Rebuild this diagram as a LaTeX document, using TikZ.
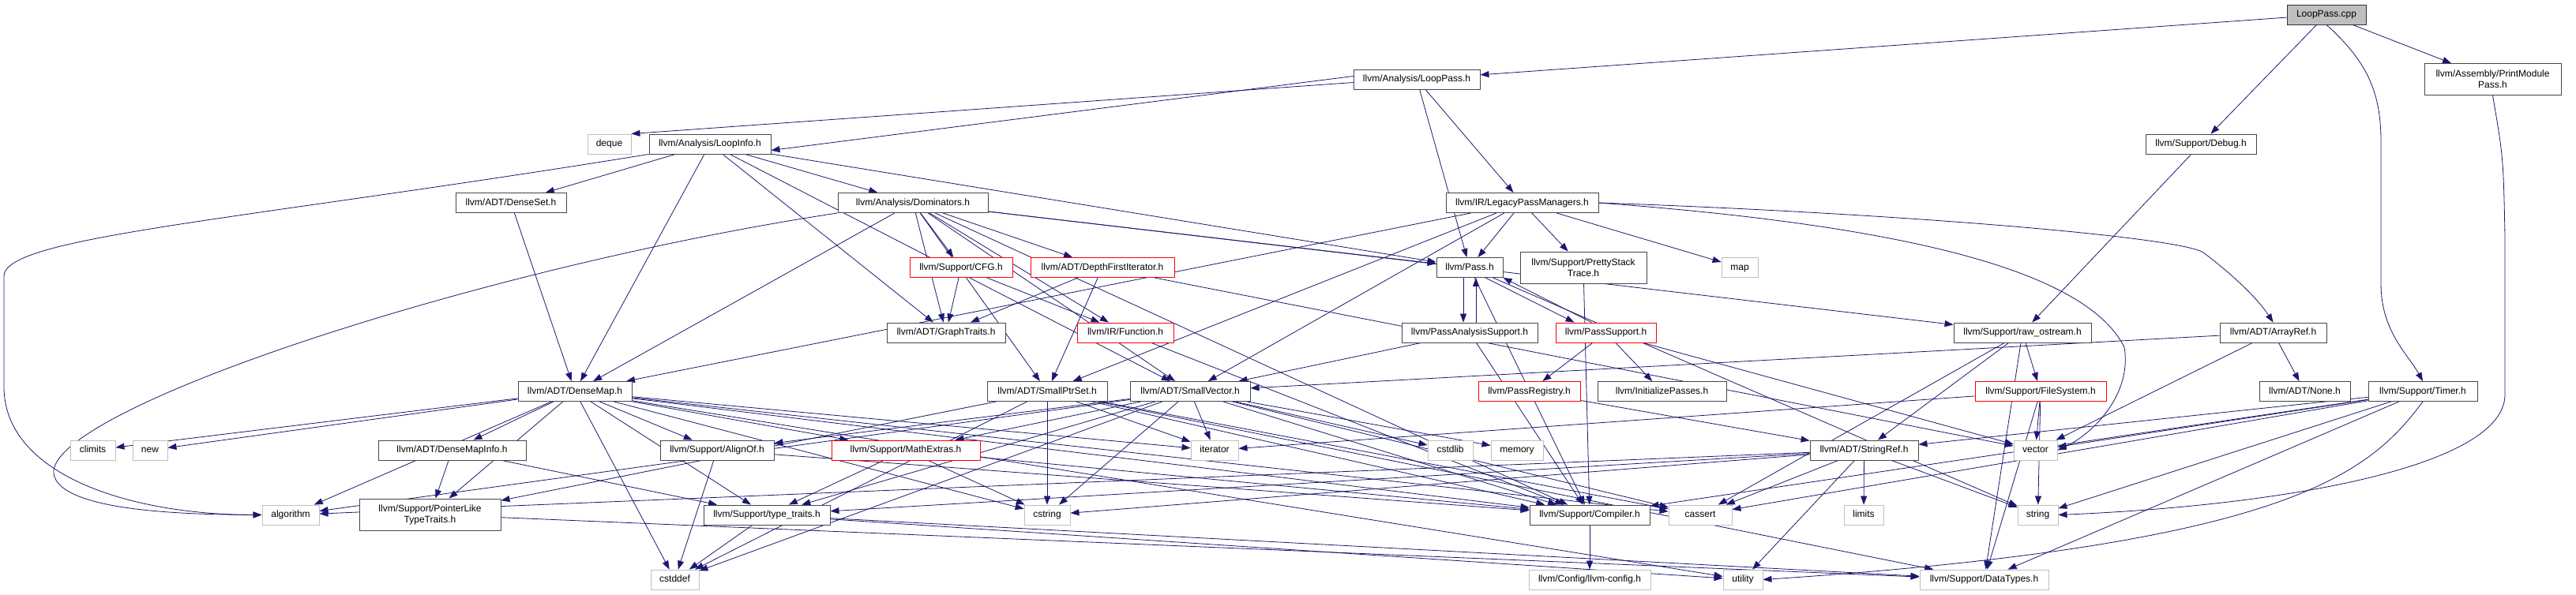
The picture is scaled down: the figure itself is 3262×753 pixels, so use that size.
\documentclass[tikz,border=0pt]{standalone}
\usepackage{fontspec}
\setmainfont{Liberation Sans}
\usetikzlibrary{arrows.meta}
\definecolor{edgec}{HTML}{191970}
\definecolor{graybd}{HTML}{BFBFBF}
\definecolor{rootfill}{HTML}{BFBFBF}
\pgfdeclarelayer{bg}
\pgfsetlayers{bg,main}
\begin{document}
\begin{tikzpicture}[x=1pt,y=-1pt,
  nd/.style={draw=black!72,fill=white,line width=0.9pt,minimum height=25pt,inner sep=0pt,
    font=\fontsize{12}{14}\selectfont,text height=9pt,text depth=2.5pt},
  ndtwo/.style={draw=black!72,fill=white,line width=0.9pt,minimum height=40pt,inner sep=0pt,
    font=\fontsize{12}{14}\selectfont,align=center},
  sys/.style={nd,draw=graybd},
  redbox/.style={nd,draw=red},
  conn/.style={draw=edgec,line width=0.8pt,-{Triangle[length=11pt,width=8pt]}}]
\useasboundingbox (0,0) rectangle (3262,753);
% row 0
\node[nd,fill=rootfill,draw=black!80,minimum width=100pt] (root) at (2946,18.5) {LoopPass.cpp};
% row 1
\node[nd,minimum width=160pt] (looppass) at (1794,100.5) {llvm/Analysis/LoopPass.h};
\node[ndtwo,minimum width=173pt] (pmp) at (3156.5,100.5) {llvm/Assembly/PrintModule\\Pass.h};
% row 2
\node[sys,minimum width=55pt] (deque) at (771.5,182.5) {deque};
\node[nd,minimum width=154pt] (loopinfo) at (899,182.5) {llvm/Analysis/LoopInfo.h};
\node[nd,minimum width=140pt] (debug) at (2787,182.5) {llvm/Support/Debug.h};
% row 3
\node[nd,minimum width=140pt] (denseset) at (647,257) {llvm/ADT/DenseSet.h};
\node[nd,minimum width=190pt] (dominators) at (1156,257) {llvm/Analysis/Dominators.h};
\node[nd,minimum width=193pt] (lpm) at (1927.5,257) {llvm/IR/LegacyPassManagers.h};
% row 4
\node[redbox,minimum width=130pt] (cfg) at (1217,339) {llvm/Support/CFG.h};
\node[redbox,minimum width=182pt] (dfi) at (1396,339) {llvm/ADT/DepthFirstIterator.h};
\node[nd,minimum width=84pt] (pass) at (1861,339) {llvm/Pass.h};
\node[ndtwo,minimum width=160pt] (pst) at (2005,339) {llvm/Support/PrettyStack\\Trace.h};
\node[sys,minimum width=46pt] (map) at (2203,339) {map};
% row 5
\node[nd,minimum width=150pt] (graphtraits) at (1198,421.5) {llvm/ADT/GraphTraits.h};
\node[redbox,minimum width=122pt] (function) at (1425,421.5) {llvm/IR/Function.h};
\node[nd,minimum width=172pt] (pas) at (1861,421.5) {llvm/PassAnalysisSupport.h};
\node[redbox,minimum width=127pt] (passsupport) at (2033.5,421.5) {llvm/PassSupport.h};
\node[nd,minimum width=174pt] (rawostream) at (2561,421.5) {llvm/Support/raw\_ostream.h};
\node[nd,minimum width=135pt] (arrayref) at (2878.5,421.5) {llvm/ADT/ArrayRef.h};
% row 6
\node[nd,minimum width=144pt] (densemap) at (728,496) {llvm/ADT/DenseMap.h};
\node[nd,minimum width=152pt] (smallptrset) at (1326,496) {llvm/ADT/SmallPtrSet.h};
\node[nd,minimum width=152pt] (smallvector) at (1507,496) {llvm/ADT/SmallVector.h};
\node[redbox,minimum width=129pt] (passregistry) at (1936.5,496) {llvm/PassRegistry.h};
\node[nd,minimum width=163pt] (initpasses) at (2104.5,496) {llvm/InitializePasses.h};
\node[redbox,minimum width=166pt] (filesystem) at (2584,496) {llvm/Support/FileSystem.h};
\node[nd,minimum width=115pt] (none) at (2918.5,496) {llvm/ADT/None.h};
\node[nd,minimum width=138pt] (timer) at (3068,496) {llvm/Support/Timer.h};
% row 7
\node[sys,minimum width=57pt] (climits) at (117.5,570.5) {climits};
\node[sys,minimum width=44pt] (new) at (190,570.5) {new};
\node[nd,minimum width=187pt] (densemapinfo) at (572.5,570.5) {llvm/ADT/DenseMapInfo.h};
\node[nd,minimum width=144pt] (alignof) at (908,570.5) {llvm/Support/AlignOf.h};
\node[redbox,minimum width=188pt] (mathextras) at (1147,570.5) {llvm/Support/MathExtras.h};
\node[sys,minimum width=60pt] (iterator) at (1538,570.5) {iterator};
\node[sys,minimum width=57pt] (cstdlib) at (1836.5,570.5) {cstdlib};
\node[sys,minimum width=66pt] (memory) at (1921,570.5) {memory};
\node[nd,minimum width=137pt] (stringref) at (2360.5,570.5) {llvm/ADT/StringRef.h};
\node[sys,minimum width=55pt] (vector) at (2577.5,570.5) {vector};
% row 8
\node[sys,minimum width=72pt] (algorithm) at (368,652.5) {algorithm};
\node[ndtwo,minimum width=179pt] (pltt) at (544.5,652) {llvm/Support/PointerLike\\TypeTraits.h};
\node[nd,minimum width=160pt] (typetraits) at (971,652.5) {llvm/Support/type\_traits.h};
\node[sys,minimum width=58pt] (cstring) at (1326,652.5) {cstring};
\node[nd,minimum width=152pt] (compiler) at (2013,652.5) {llvm/Support/Compiler.h};
\node[sys,minimum width=80pt] (cassert) at (2153,652.5) {cassert};
\node[sys,minimum width=50pt] (limits) at (2360,652.5) {limits};
\node[sys,minimum width=51pt] (string) at (2580.5,652.5) {string};
% row 9
\node[sys,minimum width=61pt] (cstddef) at (854.5,734.5) {cstddef};
\node[sys,minimum width=154pt] (llvmconfig) at (2013,734.5) {llvm/Config/llvm-config.h};
\node[sys,minimum width=50pt] (utility) at (2207,734.5) {utility};
\node[sys,minimum width=163pt] (datatypes) at (2512.5,734.5) {llvm/Support/DataTypes.h};

\begin{pgfonlayer}{bg}
\foreach \a/\b in {root/looppass, root/pmp, root/debug,
  looppass/lpm, looppass/pass,
  loopinfo/densemap, loopinfo/denseset, loopinfo/graphtraits, loopinfo/smallvector, loopinfo/dominators, loopinfo/pass,
  denseset/densemap,
  dominators/densemap, dominators/dfi, dominators/graphtraits, dominators/smallptrset, dominators/smallvector,
  dominators/function, dominators/pass, dominators/cfg, dominators/compiler, dominators/rawostream,
  lpm/densemap, lpm/smallptrset, lpm/smallvector, lpm/pass, lpm/pst, lpm/map,
  debug/rawostream,
  cfg/graphtraits, cfg/function,
  dfi/graphtraits, dfi/smallptrset, dfi/vector,
  pass/compiler, pass/string,
  pst/compiler, function/compiler,
  pas/smallvector, pas/compiler,
  passsupport/passregistry, passsupport/initpasses, passsupport/vector,
  rawostream/stringref, rawostream/filesystem, rawostream/cassert, rawostream/datatypes,
  arrayref/none, arrayref/smallvector, arrayref/vector,
  densemap/densemapinfo, densemap/alignof, densemap/compiler, densemap/mathextras, densemap/pltt,
  densemap/typetraits, densemap/algorithm, densemap/cassert, densemap/climits, densemap/cstddef,
  densemap/cstring, densemap/iterator, densemap/new, densemap/utility,
  smallptrset/compiler, smallptrset/datatypes, smallptrset/pltt, smallptrset/cassert, smallptrset/cstddef,
  smallptrset/cstring, smallptrset/iterator,
  smallvector/alignof, smallvector/compiler, smallvector/mathextras, smallvector/typetraits,
  smallvector/algorithm, smallvector/cassert, smallvector/cstddef, smallvector/cstdlib, smallvector/cstring,
  smallvector/iterator, smallvector/memory,
  passregistry/stringref,
  filesystem/vector, filesystem/string, filesystem/datatypes, filesystem/iterator,
  timer/stringref, timer/compiler, timer/datatypes, timer/cassert, timer/string, timer/vector,
  densemapinfo/pltt, densemapinfo/typetraits,
  alignof/compiler, alignof/cstddef,
  mathextras/compiler, mathextras/typetraits, mathextras/cstring,
  stringref/typetraits, stringref/algorithm, stringref/cassert, stringref/cstring, stringref/limits,
  stringref/string, stringref/utility,
  pltt/datatypes,
  typetraits/datatypes, typetraits/cstddef, typetraits/utility,
  compiler/llvmconfig}
  \draw[conn] (\a) -- (\b);
% edges with explicit end points
\draw[conn] ([yshift=-4pt]looppass.west) -- (deque.north east);
\draw[conn] ([yshift=4pt]looppass.west) -- ([yshift=-8pt]loopinfo.east);
\draw[conn] ([xshift=-8pt]pass.south) -- ([xshift=-8pt]pas.north);
\draw[conn] ([xshift=8pt]pas.north) -- ([xshift=8pt]pass.south);
\draw[conn] ([xshift=20pt]pass.south) -- ([xshift=-40pt]passsupport.north);
\draw[conn] ([xshift=-18pt]passsupport.north) -- (pass.south east);
% curved long routes
\draw[conn] (loopinfo.south west) .. controls (300,280) and (5,300) .. (5,350) -- (5,490)
  .. controls (5,600) and (160,652) .. (algorithm.west);
\draw[conn] (dominators.south west) .. controls (600,340) and (60,520) .. (68,600)
  .. controls (75,650) and (250,652) .. (algorithm.west);
\draw[conn] (pmp.south) .. controls (3170,200) .. (3172,300) -- (3172,500)
  .. controls (3172,590) and (2900,640) .. (string.east);
\draw[conn] (root.south) .. controls (3000,80) and (3015,120) .. (3015,180) -- (3015,360)
  .. controls (3015,420) and (3050,450) .. (timer.north);
\draw[conn] (lpm.east) .. controls (2400,270) and (2760,300) .. (2790,320)
  .. controls (2830,350) and (2860,380) .. (arrayref.north);
\draw[conn] (lpm.east) .. controls (2400,285) and (2640,340) .. (2690,440)
  .. controls (2700,500) and (2650,550) .. (vector.east);
\draw[conn] (timer.south) .. controls (3000,600) and (2900,690) .. (utility.east);
\end{pgfonlayer}
\end{tikzpicture}
\end{document}
